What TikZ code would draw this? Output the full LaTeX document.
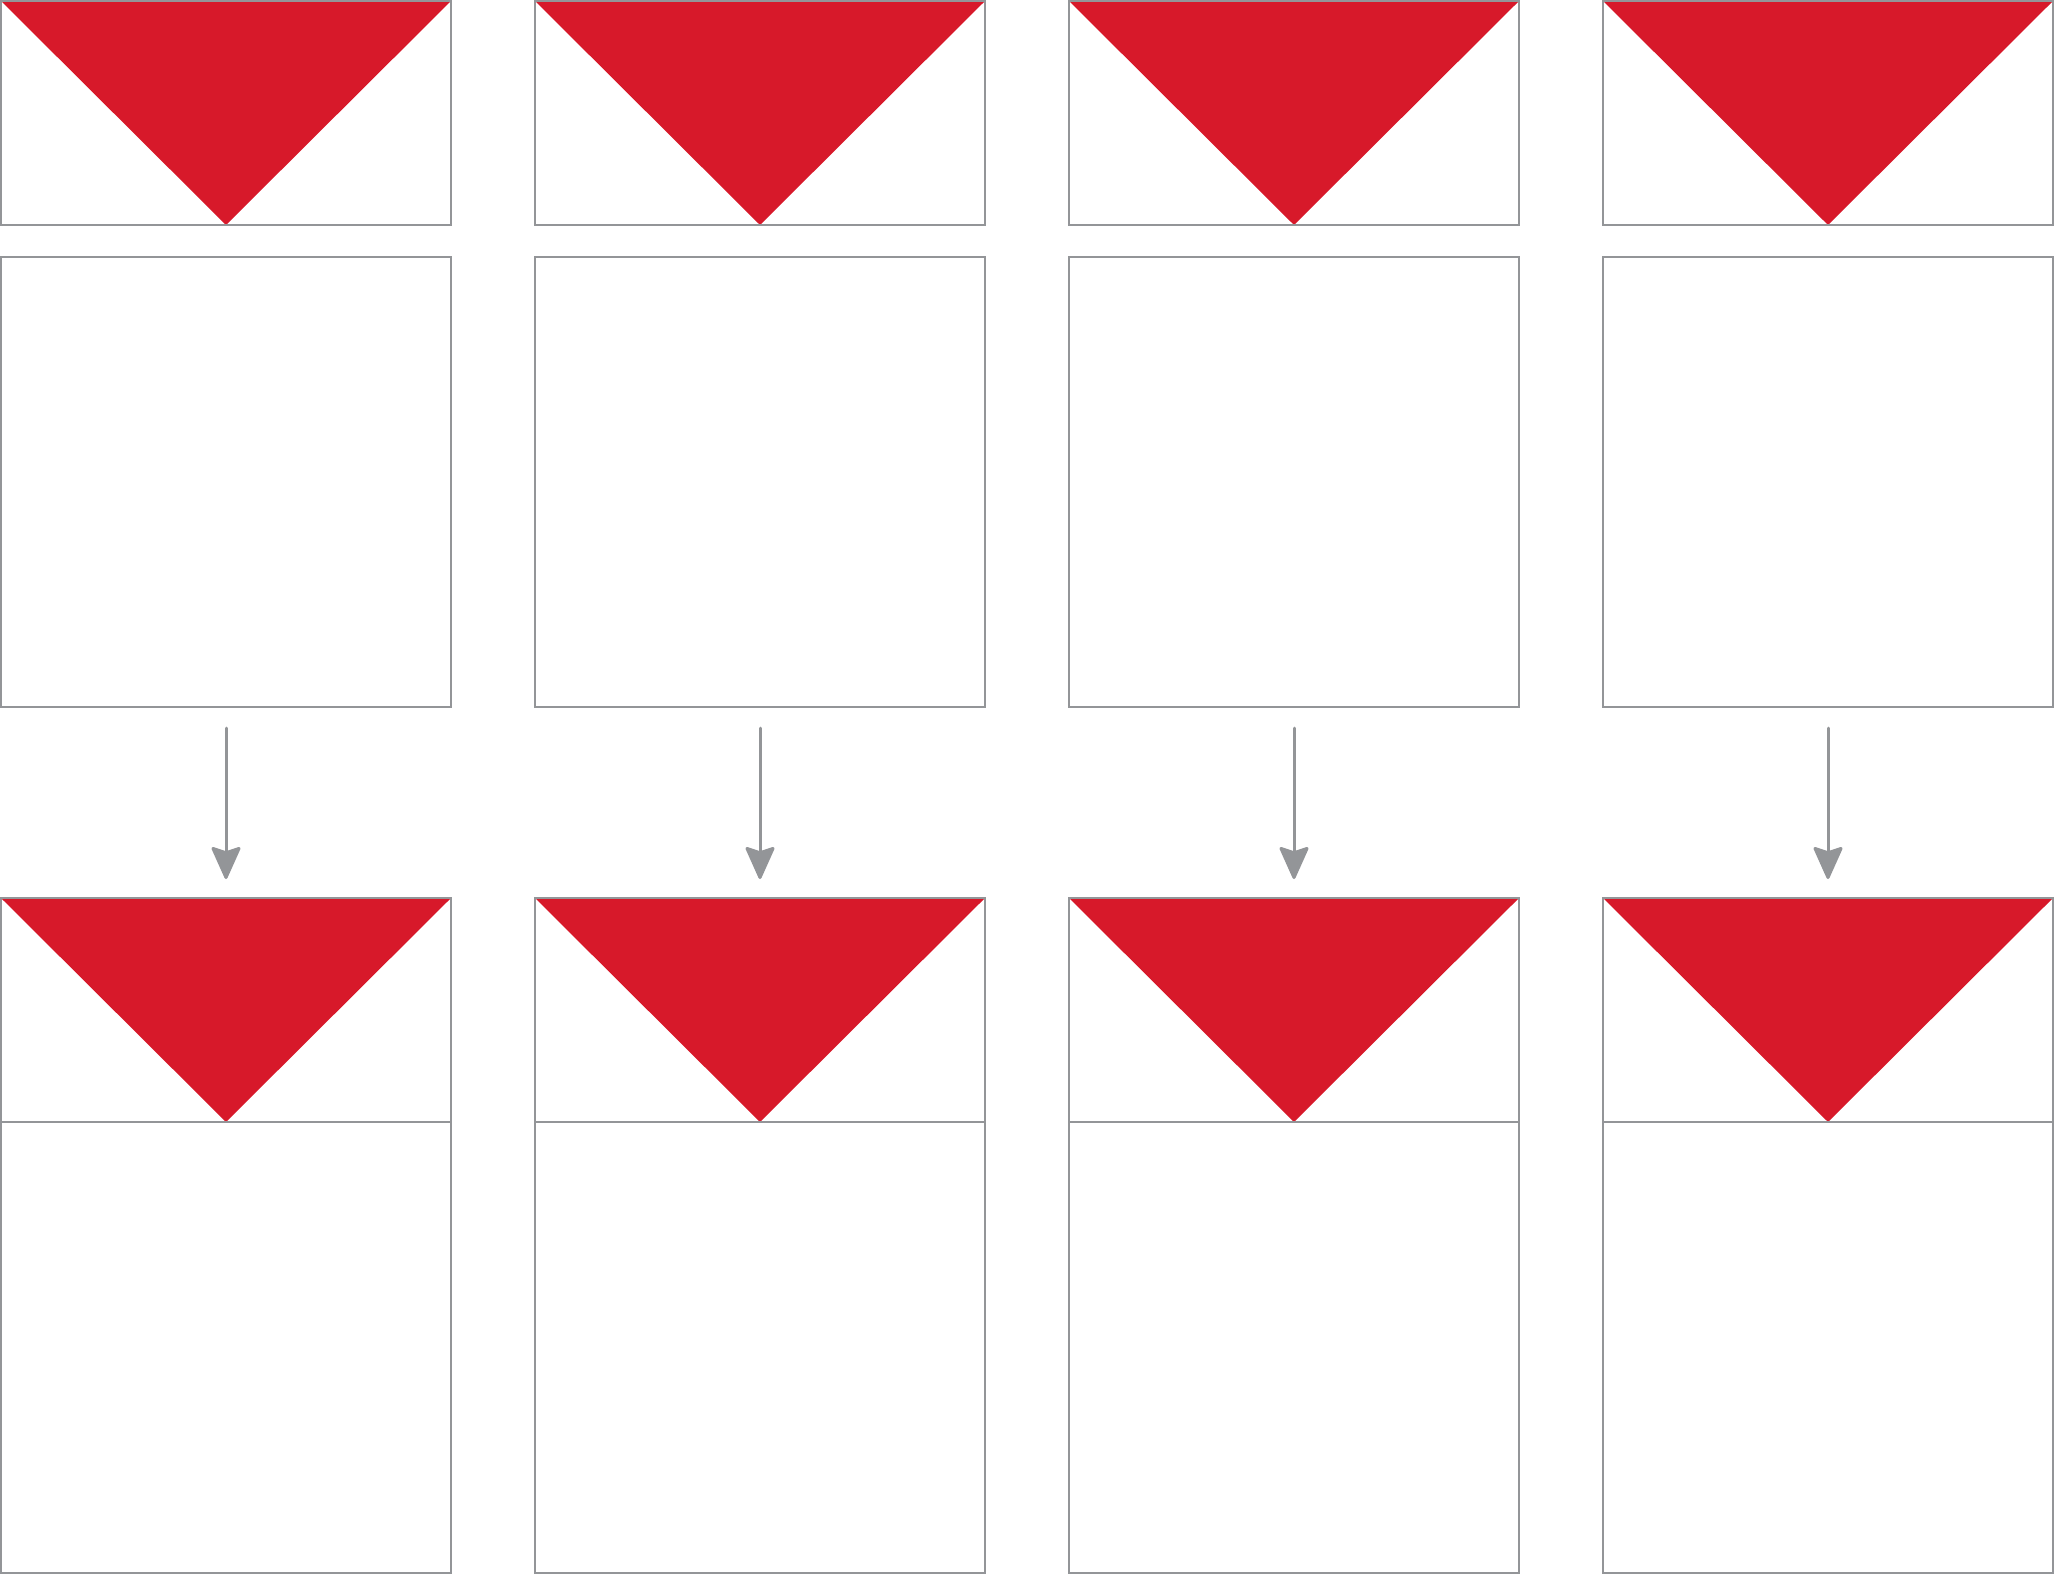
\documentclass[tikz,border=0pt]{standalone}
\usetikzlibrary{arrows.meta}
\definecolor{boxgray}{RGB}{147,149,152}
\definecolor{tri}{RGB}{215,25,42}
\tikzset{
  frame/.style={draw=boxgray, line width=2pt, fill=none},
  redtri/.style={fill=tri, draw=none},
  flow/.style={draw=boxgray, line width=3pt, line cap=round,
    -{Stealth[length=35pt, width=31pt, inset=5pt, round=false]}}
}
\begin{document}
\begin{tikzpicture}[x=1pt,y=-1pt]
\useasboundingbox (0,0) rectangle (2055,1574);
\foreach \i in {1,2,3,4}{
  \pgfmathsetmacro{\L}{1+534*(\i-1)}
  \pgfmathsetmacro{\R}{451+534*(\i-1)}
  \pgfmathsetmacro{\M}{226+534*(\i-1)}
  % top small box with triangle
  \fill[redtri] (\L,1) -- (\R,1) -- (\M,225) -- cycle;
  \draw[frame] (\L,1) rectangle (\R,225);
  % middle box
  \draw[frame] (\L,257) rectangle (\R,707);
  % bottom tall box with triangle and divider
  \fill[redtri] (\L,898) -- (\R,898) -- (\M,1122) -- cycle;
  \draw[frame] (\L,898) rectangle (\R,1573);
  \draw[frame] (\L,1122) -- (\R,1122);
  % arrow
  \coordinate (s\i) at (\M,728);
  \coordinate (e\i) at (\M,879);
  \draw[flow] (s\i) -- (e\i);
}
\end{tikzpicture}
\end{document}
